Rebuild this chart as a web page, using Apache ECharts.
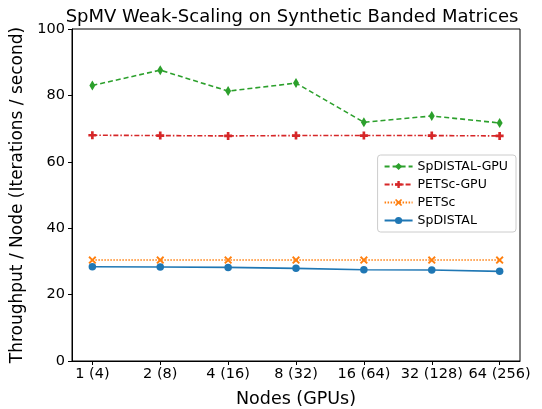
<!DOCTYPE html>
<html>
<head>
<meta charset="utf-8">
<script src="https://cdn.jsdelivr.net/npm/echarts@6/dist/echarts.min.js"></script>
<style>
  html, body { margin: 0; padding: 0; background: #fff; }
  #chart { width: 542px; height: 409px; }
</style>
</head>
<body>
<div id="chart"></div>
<script>
// nodes (gpus) on the x axis
const nodeLabels = ['1 (4)', '2 (8)', '4 (16)', '8 (32)', '16 (64)', '32 (128)', '64 (256)']

// throughput per node
const spdistalGpu = [83.0, 87.6, 81.3, 83.7, 71.9, 73.8, 71.7]
const petscGpu = [68.0, 67.9, 67.8, 67.9, 67.9, 67.9, 67.8]
const petsc = [30.4, 30.4, 30.4, 30.4, 30.4, 30.4, 30.4]
const spdistal = [28.4, 28.3, 28.2, 27.9, 27.5, 27.4, 27.0]

const yTicks = [0, 20, 40, 60, 80, 100]

const font = 'DejaVu Sans'
const plusPath = 'path://M-1,-3H1V-1H3V1H1V3H-1V1H-3V-1H-1Z'
const xPath = 'path://M-2,-3L0,-1L2,-3L3,-2L1,0L3,2L2,3L0,1L-2,3L-3,2L-1,0L-3,-2Z'

const toPoints = arr => arr.map((v, i) => [i, v])

const makeSeries = (name, data, color, lineType, symbol, size) => ({
  name,
  type: 'line',
  data: toPoints(data),
  symbol,
  symbolSize: size,
  showSymbol: true,
  itemStyle: { color, borderWidth: 0 },
  lineStyle: { color, width: 1.6, type: lineType },
  emphasis: { disabled: true },
  animation: false
})

const chart = echarts.init(document.getElementById('chart'))
chart.setOption({
  animation: false,
  title: {
    text: 'SpMV Weak-Scaling on Synthetic Banded Matrices',
    left: 287, top: 3, textAlign: 'center',
    textStyle: { fontFamily: font, fontSize: 18, fontWeight: 'normal', color: '#000' }
  },
  grid: {
    left: 72, right: 22, top: 29, bottom: 48,
    outerBoundsMode: 'none',
    show: true, borderColor: '#000', borderWidth: 1, backgroundColor: 'transparent'
  },
  legend: {
    orient: 'vertical',
    right: 26, top: 155,
    itemWidth: 28, itemHeight: 9, itemGap: 5,
    padding: [5, 8, 5, 6],
    borderColor: '#ccc', borderWidth: 1, borderRadius: 3,
    backgroundColor: '#fff',
    textStyle: { fontFamily: font, fontSize: 12.5, color: '#000' },
    data: ['SpDISTAL-GPU', 'PETSc-GPU', 'PETSc', 'SpDISTAL']
  },
  xAxis: {
    type: 'value',
    min: -0.3, max: 6.3,
    name: 'Nodes (GPUs)',
    nameLocation: 'middle', nameGap: 29,
    nameTextStyle: { fontFamily: font, fontSize: 17.5, color: '#000' },
    axisLine: { show: true, onZero: false, lineStyle: { color: '#000', width: 1 } },
    axisTick: { show: true, length: 4, customValues: [0, 1, 2, 3, 4, 5, 6], lineStyle: { color: '#000' } },
    axisLabel: {
      customValues: [0, 1, 2, 3, 4, 5, 6],
      formatter: v => nodeLabels[Math.round(v)],
      fontFamily: font, fontSize: 14.5, color: '#000', margin: 6
    },
    splitLine: { show: false }
  },
  yAxis: {
    type: 'value',
    min: 0, max: 100, interval: 20,
    name: 'Throughput / Node (Iterations / second)',
    nameLocation: 'middle', nameGap: 35,
    nameTextStyle: { fontFamily: font, fontSize: 17, color: '#000' },
    axisLine: { show: true, onZero: false, lineStyle: { color: '#000', width: 1 } },
    axisTick: { show: true, length: 4, lineStyle: { color: '#000' } },
    axisLabel: {
      formatter: v => yTicks.includes(v) ? String(v) : '',
      fontFamily: font, fontSize: 14.5, color: '#000', margin: 7
    },
    splitLine: { show: false }
  },
  series: [
    makeSeries('SpDISTAL-GPU', spdistalGpu, '#2ca02c', [5, 3], 'diamond', [6, 10]),
    makeSeries('PETSc-GPU', petscGpu, '#d62728', [5, 2, 1.5, 2], plusPath, 8),
    makeSeries('PETSc', petsc, '#ff7f0e', [1.5, 1.5], xPath, 8),
    makeSeries('SpDISTAL', spdistal, '#1f77b4', 'solid', 'circle', 7.5)
  ]
})
</script>
</body>
</html>
